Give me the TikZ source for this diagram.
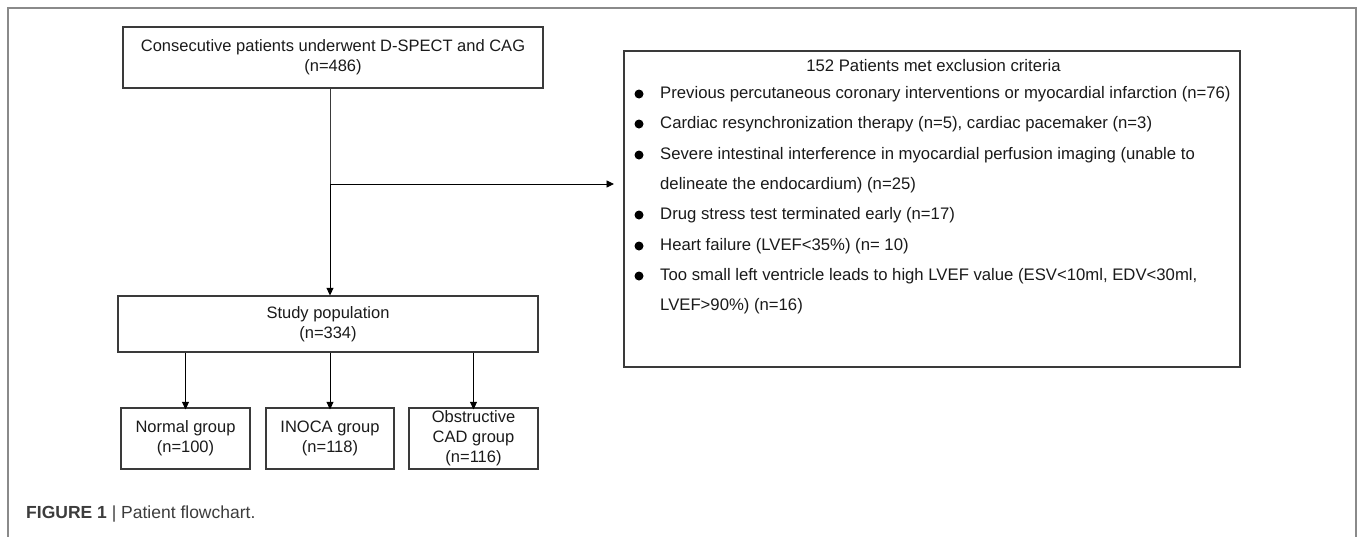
\documentclass[tikz,border=0pt]{standalone}
\usepackage{fontspec}
\setmainfont{Liberation Sans}
\usetikzlibrary{arrows.meta}
\definecolor{boxline}{HTML}{3A3A3A}
\definecolor{frameline}{HTML}{8A8A8A}
\definecolor{txt}{HTML}{1A1A1A}
\definecolor{captxt}{HTML}{3C3C3C}
\begin{document}
\begin{tikzpicture}[x=1pt,y=-1pt,
  box/.style={draw=boxline, line width=1.2pt, align=center, text=txt,
    font=\fontsize{16.5}{20}\selectfont, inner sep=0pt},
  arr/.style={-{Triangle[length=7.5pt,width=7pt]}, line width=0.9pt},
  ln/.style={line width=0.9pt, draw=boxline},
  item/.style={anchor=west, text=txt, font=\fontsize{16.7}{20}\selectfont, inner sep=0pt},
  bul/.style={fill=black, circle, inner sep=0pt, minimum size=9pt}]
\useasboundingbox (0,0) rectangle (1357,536);
\draw[frameline, line width=2pt] (8,545) -- (8,8) -- (1356,8) -- (1356,545);

\node[box, minimum width=420pt, minimum height=61pt] (top) at (333,57.5)
  {Consecutive patients underwent D-SPECT and CAG\\(n=486)};
\node[box, minimum width=420pt, minimum height=56pt] (study) at (328,324)
  {Study population\\(n=334)};
\node[box, minimum width=129pt, minimum height=61pt] (normal) at (185.5,438.5)
  {Normal group\\(n=100)};
\node[box, minimum width=128pt, minimum height=61pt] (inoca) at (330,438.5)
  {INOCA group\\(n=118)};
\node[box, minimum width=129pt, minimum height=61pt] (obs) at (473.5,438.5)
  {Obstructive\\CAD group\\(n=116)};
\node[box, minimum width=616pt, minimum height=316pt] (excl) at (932,209) {};

\node[item, anchor=center] (title) at (933.5,66) {152 Patients met exclusion criteria};
\foreach \y/\t [count=\i] in {94/{Previous percutaneous coronary interventions or myocardial infarction (n=76)},
  124/{Cardiac resynchronization therapy (n=5), cardiac pacemaker (n=3)},
  155/{Severe intestinal interference in myocardial perfusion imaging (unable to},
  215/{Drug stress test terminated early (n=17)},
  246/{Heart failure (LVEF<35\%) (n= 10)},
  276/{Too small left ventricle leads to high LVEF value (ESV<10ml, EDV<30ml,}}{
  \node[bul] (b\i) at (639,\y) {};
  \node[item] (t\i) at (660,\y) {\t};
}
\node[item] (t3b) at (660,185) {delineate the endocardium) (n=25)};
\node[item] (t6b) at (660,306) {LVEF>90\%) (n=16)};

\coordinate (j) at (330,184);
\coordinate (e) at (614,184);
\draw[ln] (top.south -| j) -- (j);
\draw[arr] (j) -- (j |- study.north);
\draw[arr] (j) -- (e);
\draw[arr] (study.south -| normal) -- ([yshift=-2pt]normal.north);
\draw[arr] (study.south -| inoca) -- ([yshift=-2pt]inoca.north);
\draw[arr] (study.south -| obs) -- ([yshift=-2pt]obs.north);

\node[anchor=west, inner sep=0pt, text=captxt, font=\fontsize{17.5}{20}\selectfont] (cap) at (26,514)
  {\textbf{FIGURE 1} | Patient flowchart.};
\end{tikzpicture}
\end{document}
